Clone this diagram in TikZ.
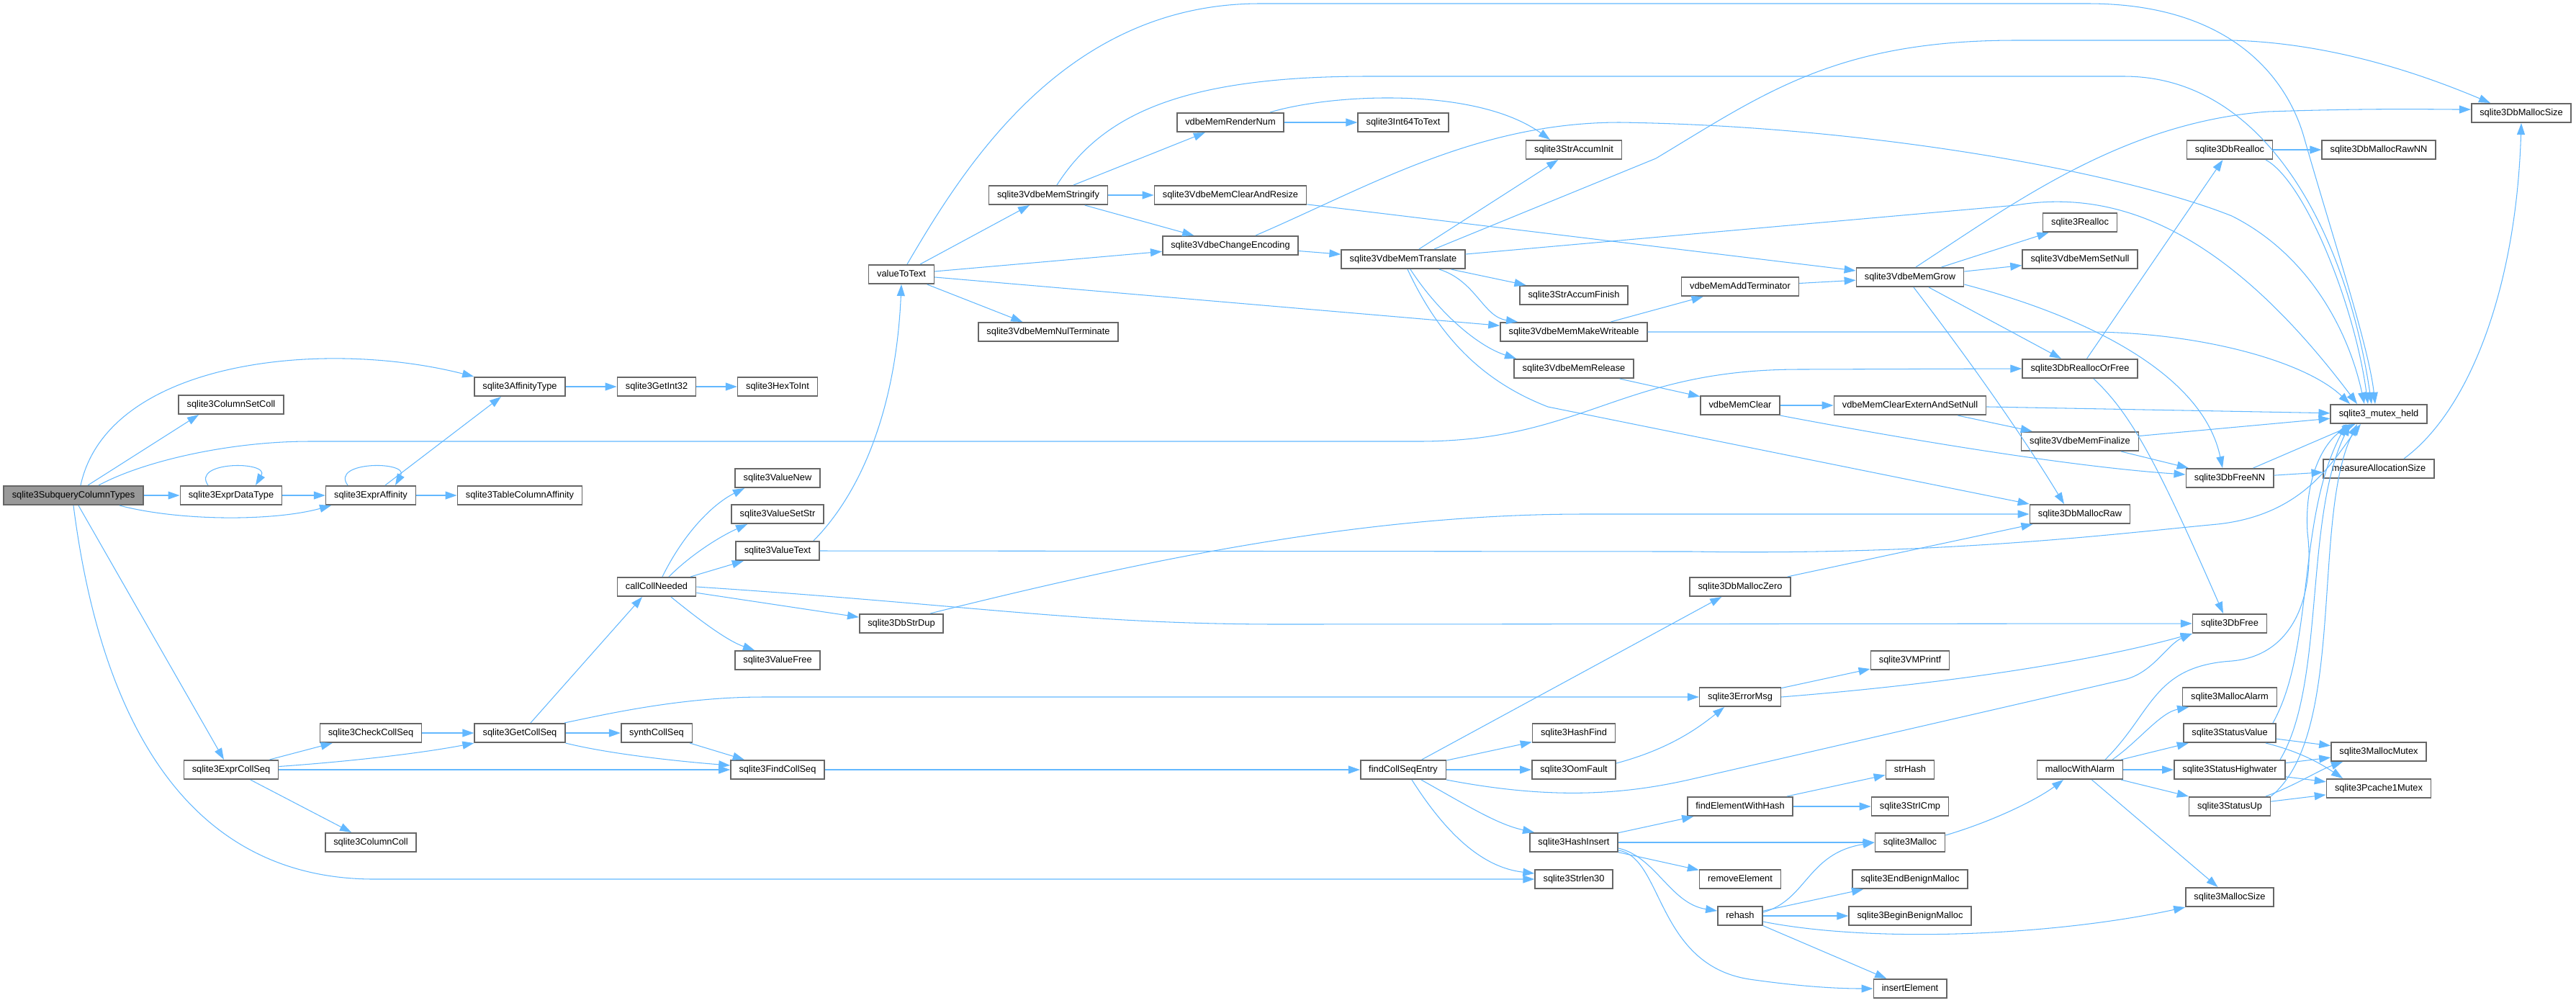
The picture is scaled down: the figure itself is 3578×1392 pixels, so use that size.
\documentclass[tikz,border=0pt]{standalone}
\usepackage{fontspec}
\setmainfont{Liberation Sans}
\usetikzlibrary{arrows.meta}
\definecolor{callblue}{HTML}{63B8FF}
\definecolor{boxgray}{HTML}{666666}
\definecolor{rootgray}{HTML}{999999}
\begin{document}
\begin{tikzpicture}[
    x=0.1mm, y=-0.1mm,
    fn/.style={draw=boxgray, fill=white, line width=0.45pt, inner xsep=1.15mm, inner ysep=0pt,
               minimum height=2.65mm, text height=2.6pt, text depth=0.75pt,
               font=\fontsize{3.65pt}{4.2pt}\selectfont},
    root/.style={fn, fill=rootgray},
    call/.style={->, draw=callblue, line width=0.3pt},
    >={Triangle[length=1.6mm, width=1.1mm]},
]
\useasboundingbox (0,0) rectangle (3578,1392);

\node[root] (sub)          at (102,688)  {sqlite3SubqueryColumnTypes};
\node[fn] (colsetcoll)     at (321,562)  {sqlite3ColumnSetColl};
\node[fn] (affty)          at (722,537)  {sqlite3AffinityType};
\node[fn] (exprdt)         at (321,688)  {sqlite3ExprDataType};
\node[fn] (expraff)        at (515,688)  {sqlite3ExprAffinity};
\node[fn] (tabcolaff)      at (722,688)  {sqlite3TableColumnAffinity};
\node[fn] (getint)         at (912,537)  {sqlite3GetInt32};
\node[fn] (hextoint)       at (1080,537) {sqlite3HexToInt};
\node[fn] (exprcoll)       at (321,1069) {sqlite3ExprCollSeq};
\node[fn] (checkcoll)      at (515,1018) {sqlite3CheckCollSeq};
\node[fn] (getcoll)        at (722,1018) {sqlite3GetCollSeq};
\node[fn] (colcoll)        at (515,1170) {sqlite3ColumnColl};
\node[fn] (callcoll)       at (912,815)  {callCollNeeded};
\node[fn] (synth)          at (912,1018) {synthCollSeq};
\node[fn] (valnew)         at (1080,664) {sqlite3ValueNew};
\node[fn] (valsetstr)      at (1080,714) {sqlite3ValueSetStr};
\node[fn] (valtext)        at (1080,765) {sqlite3ValueText};
\node[fn] (valfree)        at (1080,917) {sqlite3ValueFree};
\node[fn] (findcoll)       at (1080,1069) {sqlite3FindCollSeq};
\node[fn] (dbstrdup)       at (1252,866) {sqlite3DbStrDup};
\node[fn] (valtotext)      at (1252,381) {valueToText};
\node[fn] (stringify)      at (1456,271) {sqlite3VdbeMemStringify};
\node[fn] (nulterm)        at (1456,461) {sqlite3VdbeMemNulTerminate};
\node[fn] (rendernum)      at (1709,170) {vdbeMemRenderNum};
\node[fn] (clearresize)    at (1709,271) {sqlite3VdbeMemClearAndResize};
\node[fn] (changeenc)      at (1709,341) {sqlite3VdbeChangeEncoding};
\node[fn] (int64)          at (1949,170) {sqlite3Int64ToText};
\node[fn] (translate)      at (1949,360) {sqlite3VdbeMemTranslate};
\node[fn] (findentry)      at (1949,1069) {findCollSeqEntry};
\node[fn] (straccinit)     at (2186,208) {sqlite3StrAccumInit};
\node[fn] (straccfin)      at (2186,410) {sqlite3StrAccumFinish};
\node[fn] (makewrite)      at (2186,461) {sqlite3VdbeMemMakeWriteable};
\node[fn] (memrelease)     at (2186,512) {sqlite3VdbeMemRelease};
\node[fn] (hashfind)       at (2186,1018) {sqlite3HashFind};
\node[fn] (oom)            at (2186,1069) {sqlite3OomFault};
\node[fn] (hashins)        at (2186,1170) {sqlite3HashInsert};
\node[fn] (strlen)         at (2186,1221) {sqlite3Strlen30};
\node[fn] (addterm)        at (2417,398) {vdbeMemAddTerminator};
\node[fn] (memclear)       at (2417,563) {vdbeMemClear};
\node[fn] (malloczero)     at (2417,815) {sqlite3DbMallocZero};
\node[fn] (errmsg)         at (2417,968) {sqlite3ErrorMsg};
\node[fn] (findelem)       at (2417,1120) {findElementWithHash};
\node[fn] (remelem)        at (2417,1221) {removeElement};
\node[fn] (rehash)         at (2417,1272) {rehash};
\node[fn] (memgrow)        at (2653,385) {sqlite3VdbeMemGrow};
\node[fn] (clearext)       at (2653,563) {vdbeMemClearExternAndSetNull};
\node[fn] (vmprintf)       at (2653,917) {sqlite3VMPrintf};
\node[fn] (strhash)        at (2653,1069) {strHash};
\node[fn] (stricmp)        at (2653,1120) {sqlite3StrICmp};
\node[fn] (malloc)         at (2653,1170) {sqlite3Malloc};
\node[fn] (endbenign)      at (2653,1221) {sqlite3EndBenignMalloc};
\node[fn] (beginbenign)    at (2653,1272) {sqlite3BeginBenignMalloc};
\node[fn] (inselem)        at (2653,1373) {insertElement};
\node[fn] (realloc)        at (2889,309) {sqlite3Realloc};
\node[fn] (setnull)        at (2889,360) {sqlite3VdbeMemSetNull};
\node[fn] (reallocorfree)  at (2889,512) {sqlite3DbReallocOrFree};
\node[fn] (finalize)       at (2889,613) {sqlite3VdbeMemFinalize};
\node[fn] (mallocraw)      at (2889,714) {sqlite3DbMallocRaw};
\node[fn] (mallocalarm)    at (2889,1069) {mallocWithAlarm};
\node[fn] (dbrealloc)      at (3097,208) {sqlite3DbRealloc};
\node[fn] (freenn)         at (3097,664) {sqlite3DbFreeNN};
\node[fn] (dbfree)         at (3097,866) {sqlite3DbFree};
\node[fn] (alarmfn)        at (3097,968) {sqlite3MallocAlarm};
\node[fn] (statval)        at (3097,1018) {sqlite3StatusValue};
\node[fn] (stathw)         at (3097,1069) {sqlite3StatusHighwater};
\node[fn] (statup)         at (3097,1120) {sqlite3StatusUp};
\node[fn] (mallocsize)     at (3097,1246) {sqlite3MallocSize};
\node[fn] (rawnn)          at (3304,208) {sqlite3DbMallocRawNN};
\node[fn] (mutexheld)      at (3304,575) {sqlite3\_mutex\_held};
\node[fn] (measure)        at (3304,651) {measureAllocationSize};
\node[fn] (mallocmutex)    at (3304,1044) {sqlite3MallocMutex};
\node[fn] (pcachemutex)    at (3304,1095) {sqlite3Pcache1Mutex};
\node[fn] (dbmallocsize)   at (3502,157) {sqlite3DbMallocSize};

\draw[call] ([xshift=1mm]sub.north) .. controls (150,500) and (450,470) .. (affty.north west);
\draw[call] ([xshift=2mm]sub.north) -- ([xshift=-4.5mm]colsetcoll.south);
\draw[call] ([xshift=3.5mm]sub.north) .. controls (200,640) and (320,613) .. (430,613) -- (1970,613)
            .. controls (2200,613) and (2250,513) .. (2500,513) -- (reallocorfree.west);
\draw[call] (sub) -- (exprdt);
\draw[call] ([xshift=6.4mm]sub.south) .. controls (250,724) and (380,724) .. ([xshift=-5.5mm]expraff.south);
\draw[call] ([xshift=0.7mm]sub.south) -- ([xshift=-1mm]exprcoll.north);
\draw[call] (sub.south) .. controls (140,1000) and (260,1221) .. (520,1221) -- (strlen.west);

\draw[call] ([xshift=-3.2mm]exprdt.north) .. controls (265,640) and (375,640) .. ([xshift=3.4mm]exprdt.north);
\draw[call] (exprdt) -- (expraff);
\draw[call] ([xshift=-3.2mm]expraff.north) .. controls (458,640) and (568,640) .. ([xshift=3.4mm]expraff.north);
\draw[call] ([xshift=2mm]expraff.north) -- ([xshift=-2.6mm]affty.south);
\draw[call] (expraff) -- (tabcolaff);
\draw[call] (affty) -- (getint);
\draw[call] (getint) -- (hextoint);

\draw[call] (exprcoll) -- (checkcoll);
\draw[call] ([yshift=0.45mm]exprcoll.east) .. controls (480,1058) and (580,1047) .. (getcoll.south west);
\draw[call] (exprcoll) -- (findcoll);
\draw[call] (exprcoll) -- (colcoll);
\draw[call] (checkcoll) -- (getcoll);
\draw[call] ([xshift=1.5mm]getcoll.north) -- ([xshift=-2mm]callcoll.south);
\draw[call] (getcoll) -- (synth);
\draw[call] ([xshift=6.2mm]getcoll.north) .. controls (850,990) and (950,968) .. (1060,968) -- (errmsg.west);
\draw[call] (getcoll.south east) .. controls (850,1048) and (950,1058) .. ([yshift=0.6mm]findcoll.west);
\draw[call] (synth) -- (findcoll);

\draw[call] ([xshift=0.8mm]callcoll.north) .. controls (950,740) and (990,700) .. ([xshift=-4.6mm]valnew.south);
\draw[call] ([xshift=1.7mm]callcoll.north) .. controls (960,770) and (1000,745) .. ([xshift=-4.2mm]valsetstr.south);
\draw[call] (callcoll) -- (valtext);
\draw[call] (callcoll) -- (dbstrdup);
\draw[call] ([xshift=2mm]callcoll.south) .. controls (970,860) and (1010,890) .. ([xshift=-3.2mm]valfree.north);
\draw[call] (callcoll.east) .. controls (1350,840) and (1500,867) .. (1780,867) -- (dbfree.west);

\draw[call] ([xshift=5mm]valtext.north) .. controls (1200,680) and (1245,560) .. (valtotext.south);
\draw[call] (valtext.east) -- (2350,766) .. controls (2700,772) and (2950,740) .. (3080,728)
            .. controls (3200,715) and (3240,640) .. ([xshift=-2.5mm]mutexheld.south);
\draw[call] ([xshift=4mm]dbstrdup.north) .. controls (1600,775) and (1900,714) .. (2200,714) -- (mallocraw.west);

\draw[call] (valtotext) -- (stringify);
\draw[call] (valtotext) -- (changeenc);
\draw[call] (valtotext) -- (makewrite);
\draw[call] (valtotext) -- (nulterm);
\draw[call] ([xshift=0.8mm]valtotext.north) .. controls (1340,230) and (1480,5) .. (1750,5) -- (2900,5)
            .. controls (3110,5) and (3180,120) .. (3200,190)
            .. controls (3240,330) and (3290,480) .. ([xshift=-0.5mm]mutexheld.north);

\draw[call] (stringify) -- (rendernum);
\draw[call] (stringify) -- (clearresize);
\draw[call] (stringify) -- (changeenc);
\draw[call] ([xshift=1.2mm]stringify.north) .. controls (1530,160) and (1640,106) .. (1900,106) -- (2950,106)
            .. controls (3150,106) and (3260,330) .. ([xshift=-1mm]mutexheld.north);
\draw[call] (rendernum) -- (int64);
\draw[call] ([xshift=5.5mm]rendernum.north) .. controls (1850,130) and (2050,120) .. ([xshift=-3.3mm]straccinit.north);
\draw[call] (clearresize) -- (memgrow);
\draw[call] (changeenc) -- (translate);
\draw[call] ([xshift=3.5mm]changeenc.north) .. controls (1900,260) and (2050,170) .. (2250,170)
            .. controls (2600,175) and (2950,240) .. (3100,300)
            .. controls (3200,350) and (3260,450) .. ([xshift=-2mm]mutexheld.north);

\draw[call] (translate) -- (straccinit);
\draw[call] ([xshift=4.3mm]translate.north) -- (2300,220) .. controls (2450,130) and (2550,56) .. (2800,56) -- (3100,56)
            .. controls (3250,60) and (3380,110) .. ([xshift=-4.3mm]dbmallocsize.north);
\draw[call] ([yshift=0.7mm]translate.east) -- (2800,285) .. controls (2950,260) and (3100,330) .. ([xshift=-3mm]mutexheld.north);
\draw[call] (translate) -- (straccfin);
\draw[call] ([xshift=5mm]translate.south) .. controls (2050,390) and (2060,440) .. ([xshift=-7.8mm]makewrite.north);
\draw[call] ([xshift=1mm]translate.south) .. controls (1995,430) and (2050,480) .. ([xshift=-8mm]memrelease.north);
\draw[call] ([xshift=0.6mm]translate.south) .. controls (2000,470) and (2060,530) .. (2150,565) -- (mallocraw.north west);

\draw[call] (makewrite) -- (addterm);
\draw[call] (makewrite.east) -- (2900,461) .. controls (3050,461) and (3200,500) .. ([xshift=-4mm]mutexheld.north);
\draw[call] (addterm) -- (memgrow);
\draw[call] (memrelease) -- (memclear);
\draw[call] (memclear) -- (clearext);
\draw[call] (memclear.south east) .. controls (2700,620) and (2900,650) .. ([yshift=0.5mm]freenn.west);

\draw[call] ([xshift=0.8mm]memgrow.north) .. controls (2800,280) and (2950,170) .. (3150,155)
            .. controls (3300,150) and (3380,152) .. ([yshift=0.5mm]dbmallocsize.west);
\draw[call] (memgrow) -- (realloc);
\draw[call] (memgrow) -- (setnull);
\draw[call] ([yshift=-1mm]memgrow.east) .. controls (2900,440) and (3060,520) .. ([xshift=-1mm]freenn.north);
\draw[call] (memgrow) -- (reallocorfree);
\draw[call] ([xshift=0.5mm]memgrow.south) .. controls (2720,480) and (2800,590) .. ([xshift=-2.2mm]mallocraw.north);

\draw[call] (clearext) -- (mutexheld);
\draw[call] (clearext) -- (finalize);
\draw[call] (finalize) -- (mutexheld);
\draw[call] (finalize) -- (freenn);
\draw[call] (reallocorfree) -- (dbrealloc);
\draw[call] ([xshift=1.9mm]reallocorfree.south) .. controls (2960,575) and (2995,640) .. ([xshift=-0.9mm]dbfree.north);
\draw[call] (dbrealloc) -- (rawnn);
\draw[call] ([xshift=5mm]dbrealloc.south) .. controls (3200,250) and (3270,420) .. ([xshift=-1.5mm]mutexheld.north);
\draw[call] (freenn) -- (measure);
\draw[call] (freenn) -- (mutexheld);
\draw[call] ([xshift=3.5mm]measure.north) .. controls (3430,570) and (3495,400) .. (dbmallocsize.south);

\draw[call] ([xshift=4.5mm]mallocalarm.north) .. controls (2970,1030) and (3000,990) .. ([xshift=-5.7mm]alarmfn.south);
\draw[call] (mallocalarm) -- (statval);
\draw[call] (mallocalarm) -- (stathw);
\draw[call] (mallocalarm) -- (statup);
\draw[call] (mallocalarm) -- (mallocsize);
\draw[call] ([xshift=3.5mm]mallocalarm.north) .. controls (2990,990) and (2990,925) .. (3100,918)
            .. controls (3190,910) and (3215,820) .. (3205,740)
            .. controls (3200,660) and (3230,610) .. ([xshift=-3.5mm]mutexheld.south);
\draw[call] ([xshift=6mm]statval.north) .. controls (3215,900) and (3190,720) .. ([xshift=-4.5mm]mutexheld.south);
\draw[call] ([xshift=7mm]stathw.north) .. controls (3230,950) and (3200,720) .. ([xshift=-4mm]mutexheld.south);
\draw[call] (statup.north east) .. controls (3260,1020) and (3210,720) .. ([xshift=-3mm]mutexheld.south);
\draw[call] (statval) -- (mallocmutex);
\draw[call] ([xshift=5mm]statval.south) .. controls (3200,1045) and (3230,1065) .. ([xshift=-5mm]pcachemutex.north);
\draw[call] (stathw) -- (mallocmutex);
\draw[call] (stathw) -- (pcachemutex);
\draw[call] ([xshift=5mm]statup.north) .. controls (3190,1090) and (3220,1070) .. ([xshift=-5mm]mallocmutex.south);
\draw[call] (statup) -- (pcachemutex);

\draw[call] (findcoll) -- (findentry);
\draw[call] (findentry) -- (malloczero);
\draw[call] (findentry) -- (hashfind);
\draw[call] (findentry) -- (oom);
\draw[call] (findentry.south east) .. controls (2150,1110) and (2250,1105) .. (2350,1082) -- (2950,944)
            .. controls (2990,935) and (3010,895) .. (dbfree.south west);
\draw[call] ([xshift=2.5mm]findentry.south) .. controls (2040,1120) and (2080,1145) .. ([xshift=-5.5mm]hashins.north);
\draw[call] ([xshift=1.2mm]findentry.south) .. controls (2010,1160) and (2060,1205) .. ([yshift=0.8mm]strlen.west);
\draw[call] ([yshift=0.9mm]oom.east) .. controls (2320,1040) and (2360,1010) .. ([xshift=-2.2mm]errmsg.south);
\draw[call] (errmsg) -- (vmprintf);
\draw[call] (errmsg.east) .. controls (2700,950) and (2900,920) .. (dbfree.south west);
\draw[call] (malloczero) -- (mallocraw);

\draw[call] (hashins) -- (findelem);
\draw[call] (hashins) -- (malloc);
\draw[call] (hashins) -- (remelem);
\draw[call] ([yshift=-0.8mm]hashins.east) .. controls (2300,1190) and (2320,1255) .. ([yshift=0.7mm]rehash.west);
\draw[call] ([yshift=-1.1mm]hashins.east) .. controls (2310,1190) and (2300,1340) .. (2430,1360)
            .. controls (2500,1370) and (2550,1373) .. (inselem.west);
\draw[call] (findelem) -- (strhash);
\draw[call] (findelem) -- (stricmp);
\draw[call] ([yshift=0.5mm]rehash.east) .. controls (2510,1250) and (2510,1185) .. (malloc.west);
\draw[call] (rehash) -- (endbenign);
\draw[call] (rehash) -- (beginbenign);
\draw[call] ([yshift=-0.8mm]rehash.east) .. controls (2600,1310) and (2850,1300) .. (mallocsize.south west);
\draw[call] (rehash) -- (inselem);
\draw[call] ([yshift=1mm]malloc.east) .. controls (2770,1140) and (2830,1110) .. ([xshift=-2.3mm]mallocalarm.south);
\end{tikzpicture}
\end{document}
